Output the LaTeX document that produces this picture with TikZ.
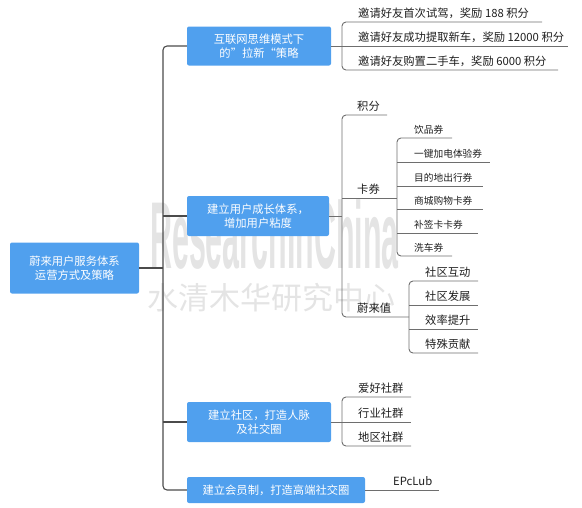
\documentclass[tikz,border=0pt]{standalone}
\usepackage{fontspec}
\setmainfont{Noto Sans CJK SC}
\newfontfamily\wmfont{Liberation Sans}
\definecolor{boxblue}{RGB}{80,160,238}
\definecolor{linegray}{RGB}{110,110,110}
\definecolor{trunkgray}{RGB}{75,75,75}
\definecolor{wmgray}{RGB}{228,228,228}
\definecolor{leaftext}{RGB}{30,30,30}
\newcommand\leafat[6]{%
  \node[leaf,#5] (#1) at (#2,#3-5) {#6};
  \coordinate (#1u) at (#4,#3);}
\begin{document}
\begin{tikzpicture}[x=1pt,y=-1pt,
  box/.style={fill=boxblue, rounded corners=2pt, text=white, align=center, inner sep=0pt,
    font=\fontsize{11.3}{13.5}\selectfont},
  leaf/.style={anchor=base west, inner sep=0pt, text=leaftext, font=\fontsize{11.3}{13.5}\selectfont},
  small/.style={font=\fontsize{9.7}{12}\selectfont},
  conn/.style={draw=linegray, line width=0.9pt},
  trunk/.style={draw=trunkgray, line width=1.1pt},
  wm/.style={anchor=base west, inner sep=0pt, text=wmgray}]
\useasboundingbox (0,0) rectangle (582,507);

% watermark
\node[wm] (wm1) at (150,268) {\scalebox{0.32}[1]{\wmfont\bfseries\fontsize{95}{95}\selectfont ResearchInChina}};
\node[wm] (wm2) at (147,309) {\fontsize{31}{31}\selectfont 水清木华研究中心};

% boxes
\node[box, minimum width=129pt, minimum height=51pt] (root) at (74.5,268) {蔚来用户服务体系\\运营方式及策略};
\node[box, minimum width=144pt, minimum height=39pt] (b1) at (259,46) {互联网思维模式下\\的”拉新“策略};
\node[box, minimum width=142pt, minimum height=40pt] (b2) at (258,216) {建立用户成长体系，\\增加用户粘度};
\node[box, minimum width=144pt, minimum height=40pt] (b3) at (259,422) {建立社区，打造人脉\\及社交圈};
\node[box, minimum width=178pt, minimum height=26pt] (b4) at (276,490) {建立会员制，打造高端社交圈};

% trunk
\coordinate (tr) at (163,268);
\draw[trunk] (root.east) -- (root.east -| tr);
\draw[trunk, rounded corners=4pt] (b1.west) -- (b1.west -| tr) -- (b4.west -| tr) -- (b4.west);
\draw[trunk] (b2.west) -- (b2.west -| tr);
\draw[trunk] (b3.west) -- (b3.west -| tr);

% group 1
\coordinate (bx1) at (342,0);
\leafat{t1}{358}{22}{542}{}{邀请好友首次试驾，奖励 188 积分}
\leafat{t2}{358}{46}{568}{}{邀请好友成功提取新车，奖励 12000 积分}
\leafat{t3}{358}{70}{558}{}{邀请好友购置二手车，奖励 6000 积分}
\draw[conn] (b1.east) -- (b1.east -| bx1);
\draw[conn, rounded corners=4pt] (t1u) -- (t1u -| bx1) -- (t3u -| bx1) -- (t3u);
\draw[conn] (t2u -| bx1) -- (t2u);

% group 2
\coordinate (bx2) at (342,0);
\coordinate (kx) at (397,0);
\coordinate (wx) at (409,0);
\leafat{g1}{357}{115}{387}{}{积分}
\leafat{g2}{357}{198}{397}{}{卡券}
\leafat{g3}{357}{317}{409}{}{蔚来值}
\draw[conn] (b2.east) -- (b2.east -| bx2);
\draw[conn, rounded corners=4pt] (g1u) -- (g1u -| bx2) -- (g3u -| bx2) -- (g3u);
\draw[conn] (g2u -| bx2) -- (g2u);

\leafat{k1}{414}{138}{452}{small}{饮品券}
\leafat{k2}{414}{162}{490}{small}{一键加电体验券}
\leafat{k3}{414}{186}{483}{small}{目的地出行券}
\leafat{k4}{414}{209}{483}{small}{商城购物卡券}
\leafat{k5}{414}{233}{478}{small}{补签卡卡券}
\leafat{k6}{414}{256}{452}{small}{洗车券}
\draw[conn, rounded corners=4pt] (k1u) -- (k1u -| kx) -- (k6u -| kx) -- (k6u);
\foreach \k in {k2,k3,k4,k5} {\draw[conn] (\k u -| kx) -- (\k u);}

\leafat{w1}{425}{281}{478}{}{社区互动}
\leafat{w2}{425}{305}{478}{}{社区发展}
\leafat{w3}{425}{329}{478}{}{效率提升}
\leafat{w4}{425}{353}{478}{}{特殊贡献}
\draw[conn, rounded corners=4pt] (w1u) -- (w1u -| wx) -- (w4u -| wx) -- (w4u);
\foreach \k in {w2,w3} {\draw[conn] (\k u -| wx) -- (\k u);}

% group 3
\coordinate (bx3) at (342,0);
\leafat{s1}{358}{397}{411}{}{爱好社群}
\leafat{s2}{358}{422}{411}{}{行业社群}
\leafat{s3}{358}{446}{411}{}{地区社群}
\draw[conn] (b3.east) -- (b3.east -| bx3);
\draw[conn, rounded corners=4pt] (s1u) -- (s1u -| bx3) -- (s3u -| bx3) -- (s3u);
\draw[conn] (s2u -| bx3) -- (s2u);

% group 4
\leafat{e1}{393}{490}{439}{}{EPcLub}
\draw[conn] (b4.east) -- (e1u);
\end{tikzpicture}
\end{document}
